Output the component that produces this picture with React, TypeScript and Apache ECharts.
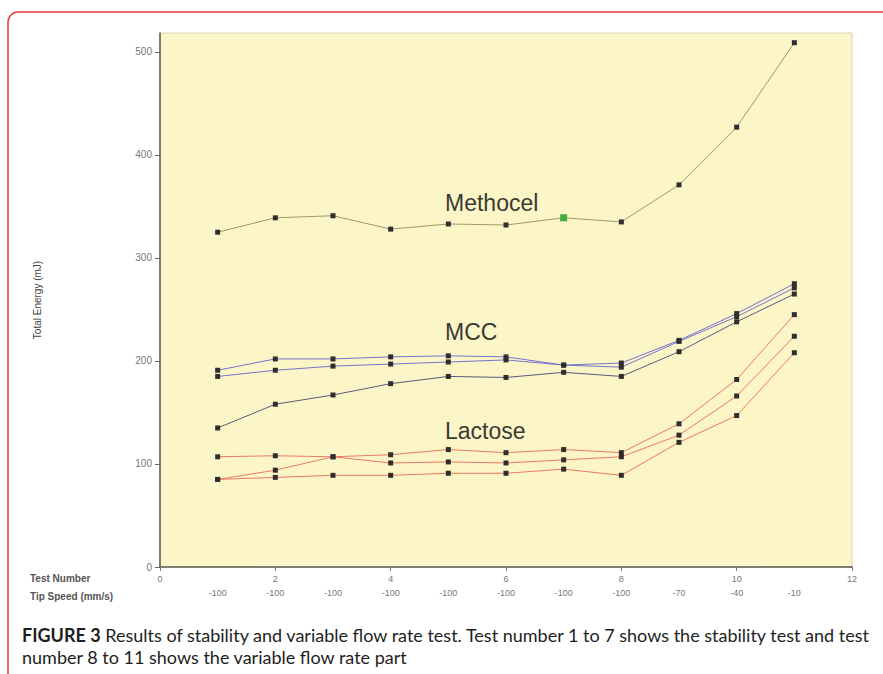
import React, { useEffect, useRef } from "react";
import * as echarts from "echarts";

const testNumbers = [1, 2, 3, 4, 5, 6, 7, 8, 9, 10, 11];
const tipSpeeds = ["-100", "-100", "-100", "-100", "-100", "-100", "-100", "-100", "-70", "-40", "-10"];
const yTicks = [0, 100, 200, 300, 400, 500];
const xTicks = [0, 2, 4, 6, 8, 10, 12];

const methocel = [325, 339, 341, 328, 333, 332, 339, 335, 371, 427, 509];
const mccA = [191, 202, 202, 204, 205, 204, 196, 198, 220, 246, 275];
const mccB = [185, 191, 195, 197, 199, 201, 196, 194, 219, 243, 271];
const mccC = [135, 158, 167, 178, 185, 184, 189, 185, 209, 238, 265];
const lactose1 = [107, 108, 107, 101, 102, 101, 104, 107, 128, 166, 224];
const lactose2 = [85, 94, 107, 109, 114, 111, 114, 111, 139, 182, 245];
const lactose3 = [85, 87, 89, 89, 91, 91, 95, 89, 121, 147, 208];

const highlightIndex = 6; // green marker on Methocel, test 7

const toPairs = (vals: number[]) => vals.map((v, i) => [testNumbers[i], v]);

export default function App() {
  const ref = useRef<HTMLDivElement>(null);
  useEffect(() => {
    document.body.style.margin = "0";
    const chart = echarts.init(ref.current!, null, { renderer: "svg" });
    const lineSeries = (name: string, vals: number[], color: string, extra: any = {}) => ({
      name,
      type: "line",
      data: toPairs(vals),
      symbol: "rect",
      symbolSize: 5,
      lineStyle: { color, width: 1 },
      itemStyle: { color: "#2e2e2e" },
      ...extra,
    });
    const methData: any[] = toPairs(methocel).map((p, i) =>
      i === highlightIndex ? { value: p, symbolSize: 7, itemStyle: { color: "#3fae3f" } } : p
    );
    chart.setOption({
      animation: false,
      backgroundColor: "#ffffff",
      grid: {
        left: 160,
        top: 33,
        width: 692,
        height: 534,
        show: true,
        backgroundColor: "#fcf5c8",
        borderColor: "#d6d2b8",
        borderWidth: 1,
      },
      xAxis: [
        {
          type: "value",
          min: 0,
          max: 12,
          interval: 2,
          position: "bottom",
          axisLine: { show: true, onZero: false, lineStyle: { color: "#5a5a50", width: 1.5 } },
          axisTick: { show: true, length: 4, lineStyle: { color: "#777" }, customValues: xTicks },
          axisLabel: { color: "#777", fontSize: 9, fontFamily: "Arial, Liberation Sans", margin: 7, customValues: xTicks },
          splitLine: { show: false },
        },
        {
          type: "value",
          min: 0,
          max: 12,
          interval: 1,
          position: "bottom",
          offset: 15,
          axisLine: { show: false },
          axisTick: { show: false },
          axisLabel: {
            color: "#777",
            fontSize: 9,
            fontFamily: "Arial, Liberation Sans",
            margin: 6,
            formatter: (v: number) => (v >= 1 && v <= 11 ? tipSpeeds[v - 1] : ""),
          },
          splitLine: { show: false },
        },
      ],
      yAxis: {
        type: "value",
        min: 0,
        max: 518.4,
        interval: 100,
        name: "Total Energy (mJ)",
        nameLocation: "middle",
        nameRotate: 90,
        nameGap: 118,
        nameTextStyle: { color: "#444", fontSize: 10, fontFamily: "Arial, Liberation Sans" },
        axisLine: { show: true, lineStyle: { color: "#5a5a50", width: 1.5 } },
        axisTick: { show: true, length: 5, lineStyle: { color: "#666" }, customValues: yTicks },
        axisLabel: { color: "#777", fontSize: 10, fontFamily: "Arial, Liberation Sans", margin: 8, customValues: yTicks },
        splitLine: { show: false },
      },
      series: [
        lineSeries("Methocel", [], "#9c9a6c", { data: methData }),
        lineSeries("MCC 1", mccA, "#7572cc"),
        lineSeries("MCC 2", mccB, "#7572cc"),
        lineSeries("MCC 3", mccC, "#5c5c78"),
        lineSeries("Lactose 1", lactose1, "#ec7a66"),
        lineSeries("Lactose 2", lactose2, "#ec7a66"),
        lineSeries("Lactose 3", lactose3, "#ec7a66"),
      ],
      graphic: [
        {
          type: "rect",
          shape: { x: 8, y: 12, width: 920, height: 720, r: 10 },
          style: { fill: "none", stroke: "#e23a3a", lineWidth: 1.5 },
          silent: true,
        },
        { type: "text", x: 445, y: 214, style: { text: "Methocel", font: "23px Arial, 'Liberation Sans'", fill: "#3a3a32", textVerticalAlign: "bottom" } },
        { type: "text", x: 445, y: 343, style: { text: "MCC", font: "23px Arial, 'Liberation Sans'", fill: "#3a3a32", textVerticalAlign: "bottom" } },
        { type: "text", x: 445, y: 442, style: { text: "Lactose", font: "23px Arial, 'Liberation Sans'", fill: "#3a3a32", textVerticalAlign: "bottom" } },
        { type: "text", x: 30, y: 578, style: { text: "Test Number", font: "bold 10px Arial, 'Liberation Sans'", fill: "#555", textVerticalAlign: "middle" } },
        { type: "text", x: 30, y: 596, style: { text: "Tip Speed (mm/s)", font: "bold 10px Arial, 'Liberation Sans'", fill: "#555", textVerticalAlign: "middle" } },
        {
          type: "text",
          x: 22,
          y: 635,
          style: {
            text: "{b|FIGURE 3} Results of stability and variable flow rate test. Test number 1 to 7 shows the stability test and test",
            rich: {
              b: { font: "bold 18px Lato", fill: "#1e1e1e" },
            },
            font: "18px Lato",
            fill: "#1e1e1e",
            textVerticalAlign: "middle",
          },
        },
        {
          type: "text",
          x: 22,
          y: 657,
          style: { text: "number 8 to 11 shows the variable flow rate part", font: "18px Lato", fill: "#1e1e1e", textVerticalAlign: "middle" },
        },
      ],
    });
    return () => chart.dispose();
  }, []);
  return <div ref={ref} style={{ width: 883, height: 674 }} />;
}
